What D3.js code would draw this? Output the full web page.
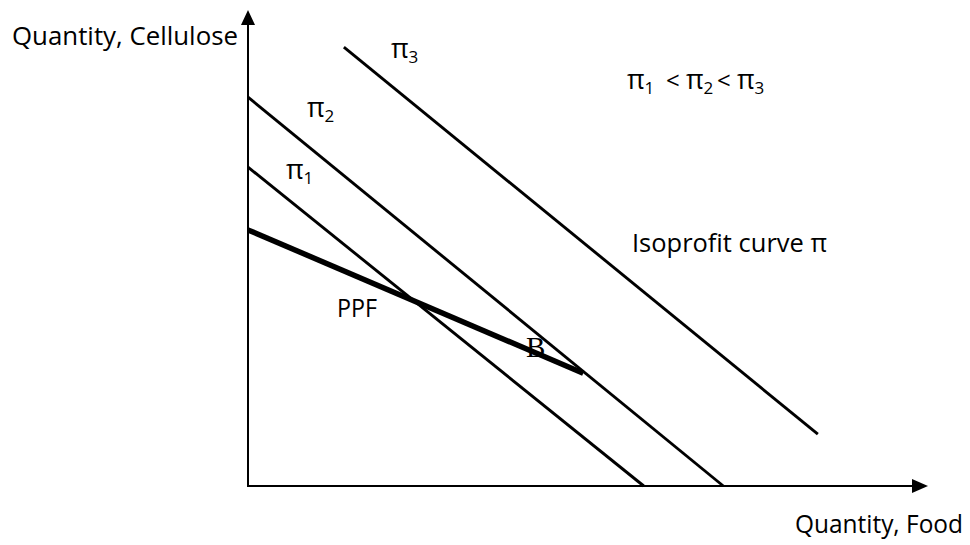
<!DOCTYPE html>
<html>
    <head>
        <meta charset="utf-8" />
        <script src="https://d3js.org/d3.v7.min.js"></script>
        <style>
            body { margin: 0; background: #fff; }
            text { font-family: 'Open Sans', 'Noto Sans', sans-serif; fill: #000; }
        </style>
    </head>
    <body>
        <svg width="970" height="545"></svg>
        <script>
            // isoprofit lines (food, cellulose) endpoints, arbitrary units 0..100
            const isoNames = ['π1', 'π2', 'π3']
            const isoStart = [[0, 67.0], [0, 81.7], [14.1, 92.2]]
            const isoEnd = [[58.2, 0], [69.9, 0], [83.8, 10.9]]
            // production possibility frontier
            const ppf = [[0, 53.8], [49.3, 23.7]]

            const svg = d3.select('svg')
            const x = d3.scaleLinear().domain([0, 100]).range([248, 928])
            const y = d3.scaleLinear().domain([0, 100]).range([486, 10])

            // axes
            svg.append('line')
                .attr('x1', x(0)).attr('y1', y(0))
                .attr('x2', x(100) - 10).attr('y2', y(0))
                .attr('stroke', '#000').attr('stroke-width', 2)
            svg.append('line')
                .attr('x1', x(0)).attr('y1', y(0) + 1)
                .attr('x2', x(0)).attr('y2', y(100) + 10)
                .attr('stroke', '#000').attr('stroke-width', 2)
            svg.append('path')
                .attr('d', `M${x(100)},${y(0)} L${x(100) - 16},${y(0) - 7} L${x(100) - 16},${y(0) + 7} Z`)
                .attr('fill', '#000')
            svg.append('path')
                .attr('d', `M${x(0)},${y(100)} L${x(0) - 7},${y(100) + 15} L${x(0) + 7},${y(100) + 15} Z`)
                .attr('fill', '#000')

            // isoprofit lines
            svg.selectAll('line.iso')
                .data(isoNames)
                .enter()
                .append('line')
                .attr('class', 'iso')
                .attr('x1', (d, i) => x(isoStart[i][0]))
                .attr('y1', (d, i) => y(isoStart[i][1]))
                .attr('x2', (d, i) => x(isoEnd[i][0]))
                .attr('y2', (d, i) => y(isoEnd[i][1]))
                .attr('stroke', '#000')
                .attr('stroke-width', 2.9)

            // PPF
            svg.append('path')
                .datum(ppf)
                .attr('d', d3.line().x((d) => x(d[0])).y((d) => y(d[1])))
                .attr('stroke', '#000')
                .attr('stroke-width', 5.5)
                .attr('fill', 'none')

            // pi labels with subscript
            function piLabel(px, py, sub) {
                const t = svg.append('text').attr('x', px).attr('y', py)
                t.append('tspan').attr('font-size', 27).text('π')
                t.append('tspan').attr('font-size', 17).attr('dy', 5).text(sub)
                return t
            }
            piLabel(391, 58, '3')
            piLabel(307, 117, '2')
            piLabel(286, 179, '1')

            // ordering label
            const ord = svg.append('text').attr('x', 627).attr('y', 89)
            ord.append('tspan').attr('font-size', 27).text('π')
            ord.append('tspan').attr('font-size', 17).attr('dy', 5).text('1')
            ord.append('tspan').attr('font-size', 24).attr('x', 666).attr('dy', -5).text('<')
            ord.append('tspan').attr('font-size', 27).attr('x', 686).text('π')
            ord.append('tspan').attr('font-size', 17).attr('dy', 5).text('2')
            ord.append('tspan').attr('font-size', 24).attr('x', 717).attr('dy', -5).text('<')
            ord.append('tspan').attr('font-size', 27).attr('x', 737).text('π')
            ord.append('tspan').attr('font-size', 17).attr('dy', 5).text('3')

            svg.append('text').attr('x', 12).attr('y', 45)
                .attr('font-size', 25).attr('textLength', 226).attr('lengthAdjust', 'spacingAndGlyphs')
                .text('Quantity, Cellulose')
            svg.append('text').attr('x', 795).attr('y', 533)
                .attr('font-size', 25).attr('textLength', 168).attr('lengthAdjust', 'spacingAndGlyphs')
                .text('Quantity, Food')
            svg.append('text').attr('x', 632).attr('y', 252)
                .attr('font-size', 25).attr('textLength', 195).attr('lengthAdjust', 'spacingAndGlyphs')
                .text('Isoprofit curve π')
            svg.append('text').attr('x', 337).attr('y', 317)
                .attr('font-size', 25).attr('textLength', 40).attr('lengthAdjust', 'spacingAndGlyphs')
                .text('PPF')
            svg.append('text').attr('x', 526).attr('y', 357)
                .attr('font-size', 29)
                .style('font-family', "'Liberation Serif', serif")
                .attr('fill', '#333')
                .text('B')
        </script>
    </body>
</html>
